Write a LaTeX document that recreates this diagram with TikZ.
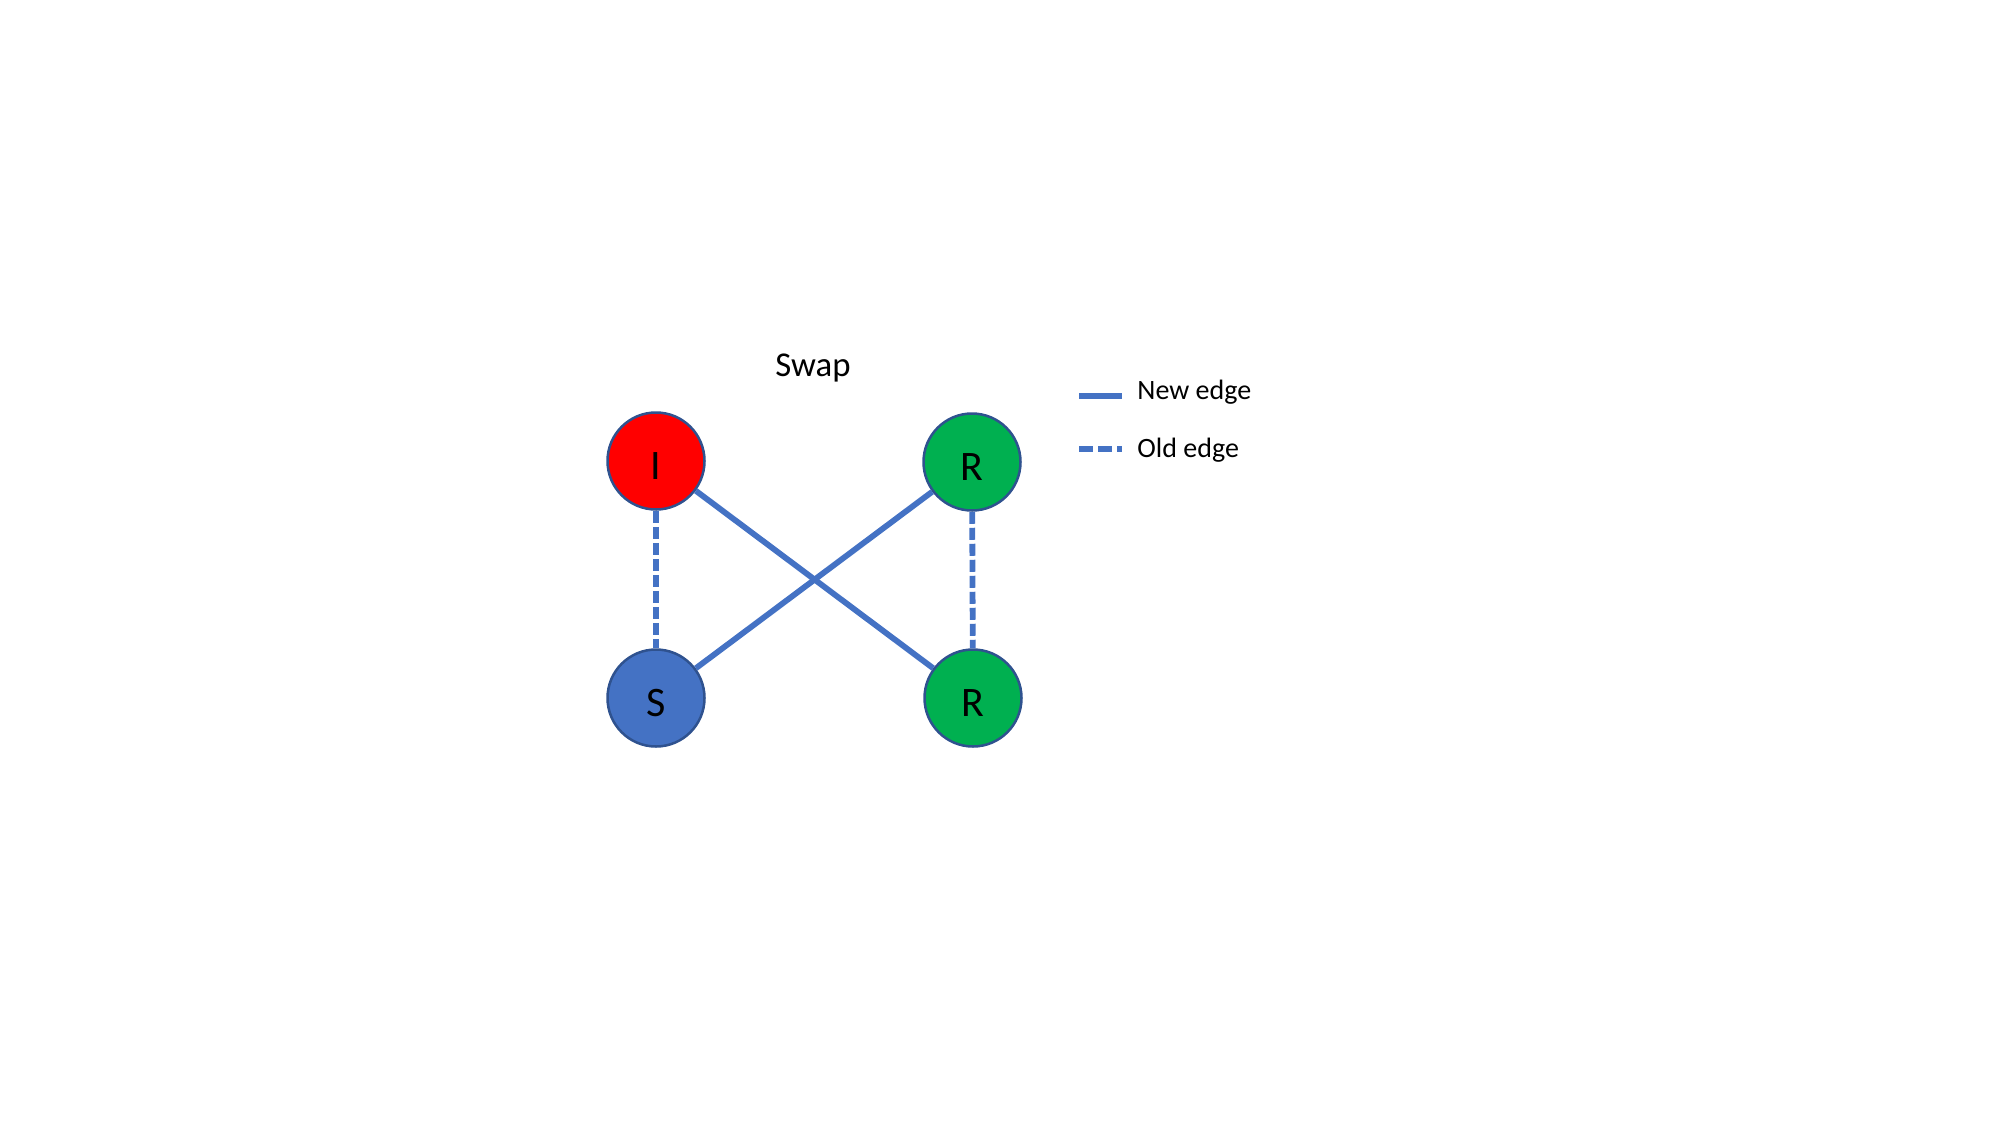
\documentclass[tikz,border=0pt]{standalone}
\usepackage{fontspec}
\setmainfont{Carlito}
\definecolor{edgeblue}{HTML}{4472C4}
\definecolor{rimblue}{HTML}{2F528F}
\definecolor{nodered}{HTML}{FF0000}
\definecolor{nodegreen}{HTML}{00B050}
\newcommand{\lowlbl}[1]{\raisebox{-2.5pt}[\height][0pt]{#1}}
\begin{document}
\begin{tikzpicture}[x=0.5pt,y=-0.5pt,
  vertex/.style={circle,draw=rimblue,line width=1.25pt,minimum size=48.5pt,inner sep=0pt,font=\fontsize{21}{24}\selectfont},
  newedge/.style={draw=edgeblue,line width=2.9pt},
  oldedge/.style={draw=edgeblue,line width=2.9pt,dash pattern=on 6pt off 2pt},
  legenddash/.style={draw=edgeblue,line width=2.9pt,dash pattern=on 7pt off 2.5pt},
  legendtext/.style={anchor=west,inner sep=0pt,font=\fontsize{14}{16}\selectfont}]
\useasboundingbox (0,0) rectangle (2000,1125);
\node[vertex,fill=nodered] (I) at (656,461) {\lowlbl{I}};
\node[vertex,fill=nodegreen] (R1) at (972,462) {\lowlbl{R}};
\node[vertex,fill=edgeblue] (S) at (656,698) {\lowlbl{S}};
\node[vertex,fill=nodegreen] (R2) at (973,698) {\lowlbl{R}};
\node[font=\fontsize{17.4}{19}\selectfont] (title) at (813,368) {Swap};
\draw[newedge] (I) -- (R2);
\draw[newedge] (S) -- (R1);
\draw[oldedge] (I) -- (S);
\draw[oldedge] (R1) -- (R2);
\coordinate (n1) at (1079,396);
\coordinate (n2) at (1122,396);
\coordinate (o1) at (1079,449);
\coordinate (o2) at (1122,449);
\draw[newedge] (n1) -- (n2);
\draw[legenddash] (o1) -- (o2);
\node[legendtext] (newlbl) at (1137,392) {New edge};
\node[legendtext] (oldlbl) at (1137,450) {Old edge};
\end{tikzpicture}
\end{document}
